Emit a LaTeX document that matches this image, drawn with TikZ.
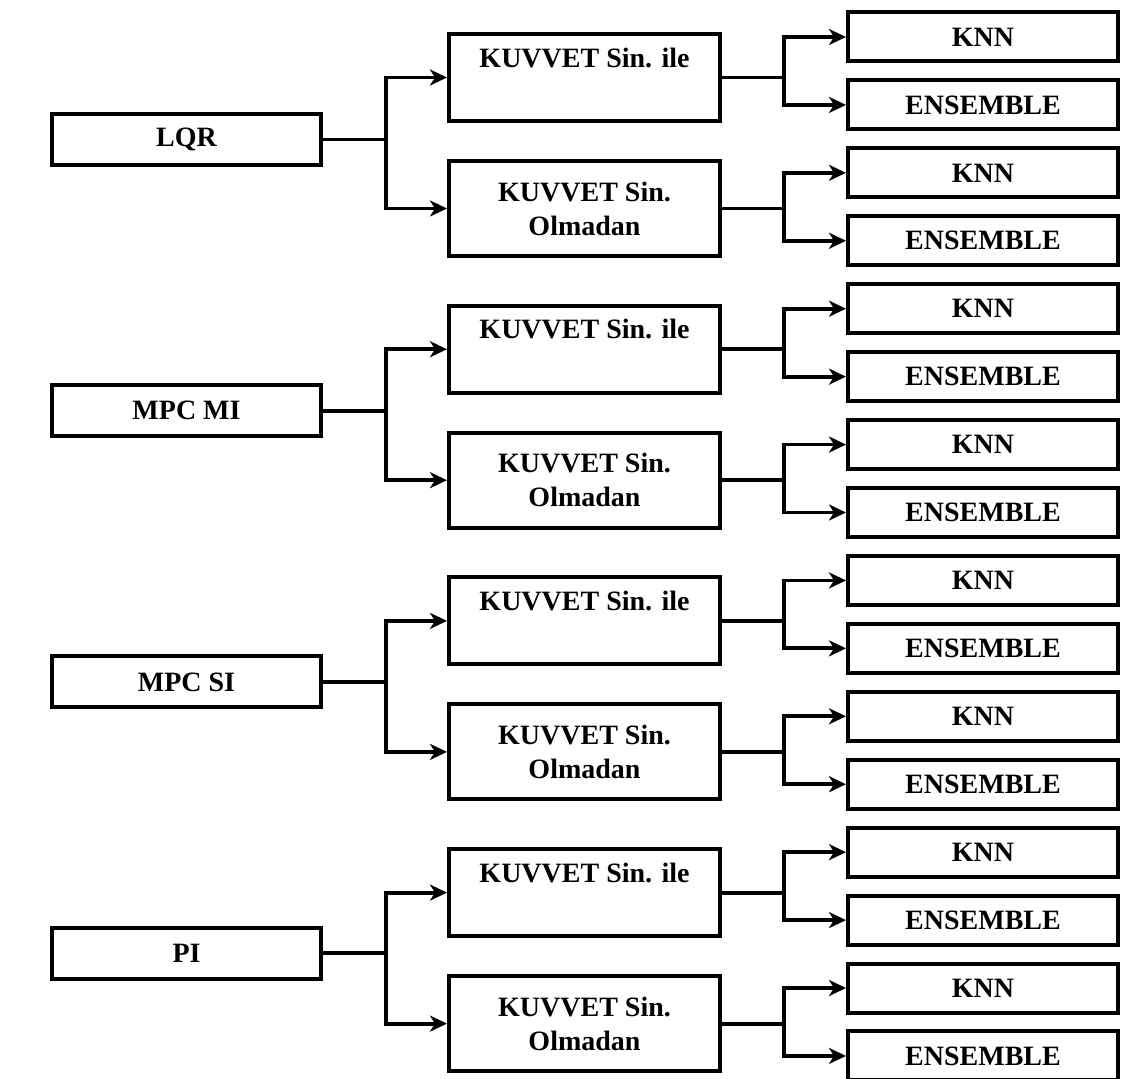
\documentclass[tikz,border=0pt]{standalone}
\usepackage{fontspec}
\setmainfont{Liberation Serif}
\usetikzlibrary{arrows.meta,positioning,calc}
\tikzset{
  ctrl/.style={draw,line width=2pt,minimum width=134.5pt,minimum height=25.5pt,
    inner sep=0pt,align=center,font=\fontsize{14}{17}\selectfont\bfseries},
  sim/.style={draw,line width=2pt,minimum width=135.5pt,minimum height=43.5pt,
    inner sep=0pt,align=center,font=\fontsize{14}{17}\selectfont\bfseries},
  leaf/.style={draw,line width=2pt,minimum width=135pt,minimum height=24.5pt,
    inner sep=0pt,align=center,font=\fontsize{14}{17}\selectfont\bfseries},
  wire/.style={line width=1.9pt},
  flow/.style={-{Stealth[length=8.5pt,width=8pt,inset=2.5pt]},line width=1.9pt},
}
\begin{document}
\begin{tikzpicture}[x=0.5pt,y=-0.5pt]
  \useasboundingbox (0,0) rectangle (1129,1079);

  \foreach \name [count=\g from 0] in {LQR,MPC MI,MPC SI,PI} {
    % controller and its two simulation cases
    \node[ctrl] (ctrl\g) at (186.5,{139.5+271.2*\g}) {\name};
    \node[sim] (ile\g) at (584.5,{77.5+271.7*\g}) {KUVVET Sin. ile\\[-2pt]\strut};
    \node[sim,minimum height=47.5pt] (olm\g) at (584.5,{208.5+271.7*\g})
      {KUVVET Sin.\\Olmadan};

    \draw[wire] (ctrl\g.east) -- ++(63,0) coordinate (ctrl\g-j);
    \draw[flow] (ctrl\g-j) |- (ile\g.west);
    \draw[flow] (ctrl\g-j) |- (olm\g.west);

    % classifiers for each case
    \foreach \m [count=\j from 0] in {ile,olm} {
      \pgfmathsetmacro\i{4*\g+2*\j}
      \node[leaf] (\m\g-knn) at (983,{37+67.93*\i}) {KNN};
      \node[leaf] (\m\g-ens) at (983,{37+67.93*(\i+1)}) {ENSEMBLE};
      \draw[wire] (\m\g.east) -- ++(62,0) coordinate (\m\g-j);
      \draw[flow] (\m\g-j) |- (\m\g-knn.west);
      \draw[flow] (\m\g-j) |- (\m\g-ens.west);
    }
  }
\end{tikzpicture}
\end{document}
